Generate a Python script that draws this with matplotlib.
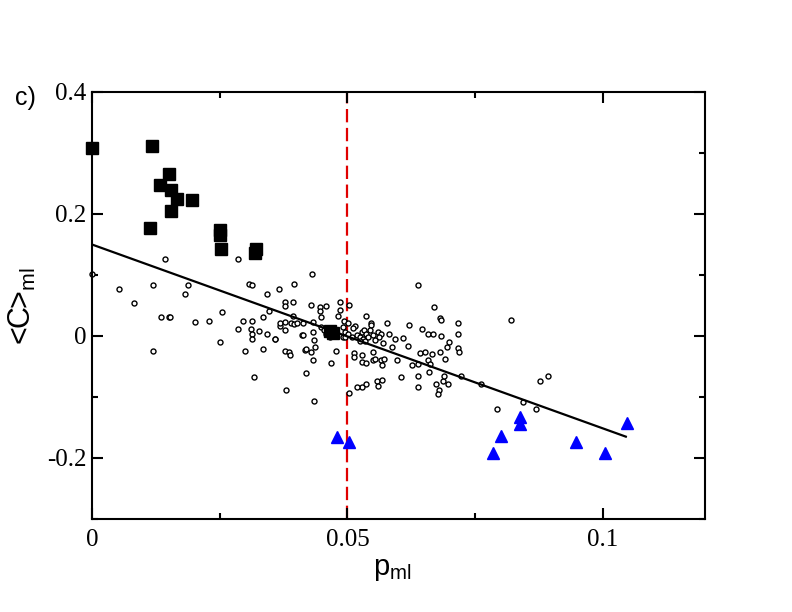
import matplotlib
matplotlib.use("Agg")
import matplotlib.pyplot as plt

plt.rcParams["mathtext.default"] = "regular"

# filled squares (black)
sq_x = [0.0, 0.0117, 0.0151, 0.0134, 0.0154, 0.0167, 0.0196, 0.0154, 0.0114,
        0.0251, 0.0251, 0.0252, 0.0322, 0.0319, 0.0465, 0.0472]
sq_y = [0.308, 0.311, 0.266, 0.247, 0.239, 0.224, 0.223, 0.205, 0.177,
        0.173, 0.166, 0.143, 0.142, 0.136, 0.008, 0.005]

# blue triangles
tri_x = [0.0480, 0.0503, 0.0837, 0.0837, 0.0800, 0.0785, 0.0948, 0.1005, 0.1047]
tri_y = [-0.165, -0.173, -0.132, -0.144, -0.164, -0.191, -0.173, -0.191, -0.143]

# open circles
circ = [
    (0.0, 0.101), (0.0142, 0.126), (0.0286, 0.126), (0.0052, 0.077), (0.0119, 0.084),
    (0.0083, 0.054), (0.0188, 0.084), (0.0182, 0.069), (0.0308, 0.085), (0.0314, 0.083),
    (0.0343, 0.069), (0.0366, 0.077), (0.0136, 0.031), (0.0150, 0.031), (0.0152, 0.031),
    (0.0201, 0.023), (0.0229, 0.025), (0.0255, 0.039), (0.0119, -0.025), (0.0251, -0.010),
    (0.0286, 0.011), (0.0295, 0.024), (0.0314, 0.024), (0.0311, 0.011), (0.0314, 0.004),
    (0.0314, -0.005), (0.0327, 0.008), (0.0342, 0.003), (0.0335, 0.031), (0.0347, 0.041),
    (0.0369, 0.016), (0.0359, -0.005), (0.0300, -0.025), (0.0335, -0.021), (0.0318, -0.068),
    (0.0430, 0.101), (0.0396, 0.085), (0.0377, 0.055), (0.0377, 0.050), (0.0393, 0.055),
    (0.0429, 0.051), (0.0446, 0.048), (0.0459, 0.049), (0.0446, 0.041), (0.0448, 0.031),
    (0.0485, 0.055), (0.0485, 0.042), (0.0482, 0.033), (0.0503, 0.051), (0.0493, 0.025),
    (0.0501, 0.022), (0.0394, 0.032), (0.0369, 0.021), (0.0377, 0.023), (0.0377, 0.010),
    (0.0358, -0.005), (0.0390, 0.022), (0.0396, 0.019), (0.0402, 0.021), (0.0413, 0.021),
    (0.0411, 0.002), (0.0413, 0.001), (0.0432, 0.023), (0.0432, 0.007), (0.0434, -0.007),
    (0.0416, -0.023), (0.0419, -0.022), (0.0428, -0.026), (0.0432, -0.040), (0.0436, -0.018),
    (0.0377, -0.024), (0.0386, -0.026), (0.0388, -0.031), (0.0449, 0.015), (0.0455, 0.010),
    (0.0459, 0.004), (0.0465, -0.001), (0.0492, 0.015), (0.0492, -0.001), (0.0478, -0.025),
    (0.0467, -0.045), (0.0418, -0.060), (0.0380, -0.089), (0.0434, -0.107), (0.0503, -0.094),
    (0.0537, 0.033), (0.0514, 0.016), (0.0511, 0.013), (0.0546, 0.022), (0.0547, 0.018),
    (0.0544, 0.010), (0.0578, 0.021), (0.0621, 0.018), (0.0646, 0.011), (0.0657, 0.003),
    (0.0668, 0.003), (0.0682, 0.029), (0.0669, 0.048), (0.0495, 0.007), (0.0495, -0.001),
    (0.0501, 0.004), (0.0508, -0.001), (0.0518, 0.002), (0.0524, -0.001), (0.0528, 0.006),
    (0.0533, 0.010), (0.0537, 0.004), (0.0531, -0.005), (0.0524, -0.009), (0.0534, -0.009),
    (0.0540, -0.001), (0.0550, 0.002), (0.0560, 0.007), (0.0565, 0.004), (0.0561, -0.002),
    (0.0554, -0.007), (0.0581, 0.004), (0.0593, -0.005), (0.0609, -0.004), (0.0619, -0.016),
    (0.0587, -0.018), (0.0570, -0.011), (0.0550, -0.027), (0.0513, -0.028), (0.0513, -0.035),
    (0.0528, -0.031), (0.0529, -0.042), (0.0537, -0.044), (0.0550, -0.040), (0.0554, -0.038),
    (0.0565, -0.039), (0.0572, -0.038), (0.0567, -0.048), (0.0598, -0.039), (0.0627, -0.048),
    (0.0638, -0.046), (0.0643, -0.028), (0.0651, -0.026), (0.0665, -0.030), (0.0657, -0.040),
    (0.0662, -0.046), (0.0659, -0.059), (0.0682, -0.026), (0.0684, 0.000), (0.0605, -0.068),
    (0.0638, -0.066), (0.0638, -0.084), (0.0557, -0.073), (0.0567, -0.072), (0.0560, -0.082),
    (0.0537, -0.079), (0.0528, -0.083), (0.0518, -0.084), (0.0673, -0.079), (0.0680, -0.089),
    (0.0639, 0.084), (0.0684, 0.027), (0.0717, 0.022), (0.0717, 0.004), (0.0717, -0.019),
    (0.0718, -0.026), (0.0692, -0.038), (0.0694, -0.018), (0.0698, -0.010), (0.0688, -0.073),
    (0.0696, -0.079), (0.0677, -0.095), (0.0690, -0.066), (0.0723, -0.066), (0.0820, 0.027),
    (0.0792, -0.120), (0.0762, -0.079), (0.0843, -0.108), (0.0869, -0.120), (0.0877, -0.074),
    (0.0892, -0.066),
]
circ_x = [c[0] for c in circ]
circ_y = [c[1] for c in circ]

# linear fit
fit_x = [0.0, 0.1045]
fit_y = [0.150, -0.165]

x_ticks = [0, 0.05, 0.1]
x_labels = ["0", "0.05", "0.1"]
y_ticks = [-0.2, 0, 0.2, 0.4]
y_labels = ["-0.2", "0", "0.2", "0.4"]


def main():
    fig = plt.figure(figsize=(7.92, 6.12), dpi=100)
    ax = fig.add_axes([92 / 792, 1 - 519 / 612, 613 / 792, 427 / 612])

    ax.axvline(0.05, color="#e00000", lw=1.6, dashes=(6, 2.5), zorder=1)
    ax.plot(circ_x, circ_y, "o", ms=3.6, mfc="white", mec="black", mew=1.0,
            ls="none", zorder=2, clip_on=False)
    ax.plot(fit_x, fit_y, color="black", lw=1.6, zorder=3)
    ax.plot(sq_x, sq_y, "s", ms=8, color="black", ls="none", zorder=4, clip_on=False)
    ax.plot(tri_x, tri_y, "^", ms=9, color="#0000ff", ls="none", zorder=4)

    ax.set_xlim(0, 0.12)
    ax.set_ylim(-0.3, 0.4)
    ax.set_xticks(x_ticks)
    ax.set_xticklabels(x_labels, fontfamily="Liberation Serif", fontsize=18)
    ax.set_yticks(y_ticks)
    ax.set_yticklabels(y_labels, fontfamily="Liberation Serif", fontsize=18)
    ax.set_xticks([0.025, 0.075], minor=True)
    ax.set_yticks([-0.3, -0.1, 0.1, 0.3], minor=True)
    ax.tick_params(which="both", direction="in", top=True, right=True, width=1.5)
    ax.tick_params(which="major", length=8)
    ax.tick_params(which="minor", length=4)
    ax.tick_params(axis="x", which="major", pad=7)
    ax.tick_params(axis="y", which="major", pad=4)
    for sp in ax.spines.values():
        sp.set_linewidth(1.5)

    ax.set_xlabel(r"$p_{ml}$", fontfamily="Liberation Sans", fontsize=21)
    ax.xaxis.set_label_coords(0.49, -0.085)
    # relation symbols get padded in mathtext, pull them back in
    ax.set_ylabel(r"$\hspace{-0.2}<\hspace{-0.25}C\hspace{-0.25}>\hspace{-0.2}_{ml}$",
                  fontfamily="Liberation Sans", fontsize=22)
    ax.yaxis.set_label_coords(-0.088, 0.5)
    fig.text(25 / 792, 1 - 98 / 612, "c)", fontfamily="Liberation Sans", fontsize=18,
             ha="center", va="center")

    fig.savefig("out.png", dpi=100)


if __name__ == "__main__":
    main()
